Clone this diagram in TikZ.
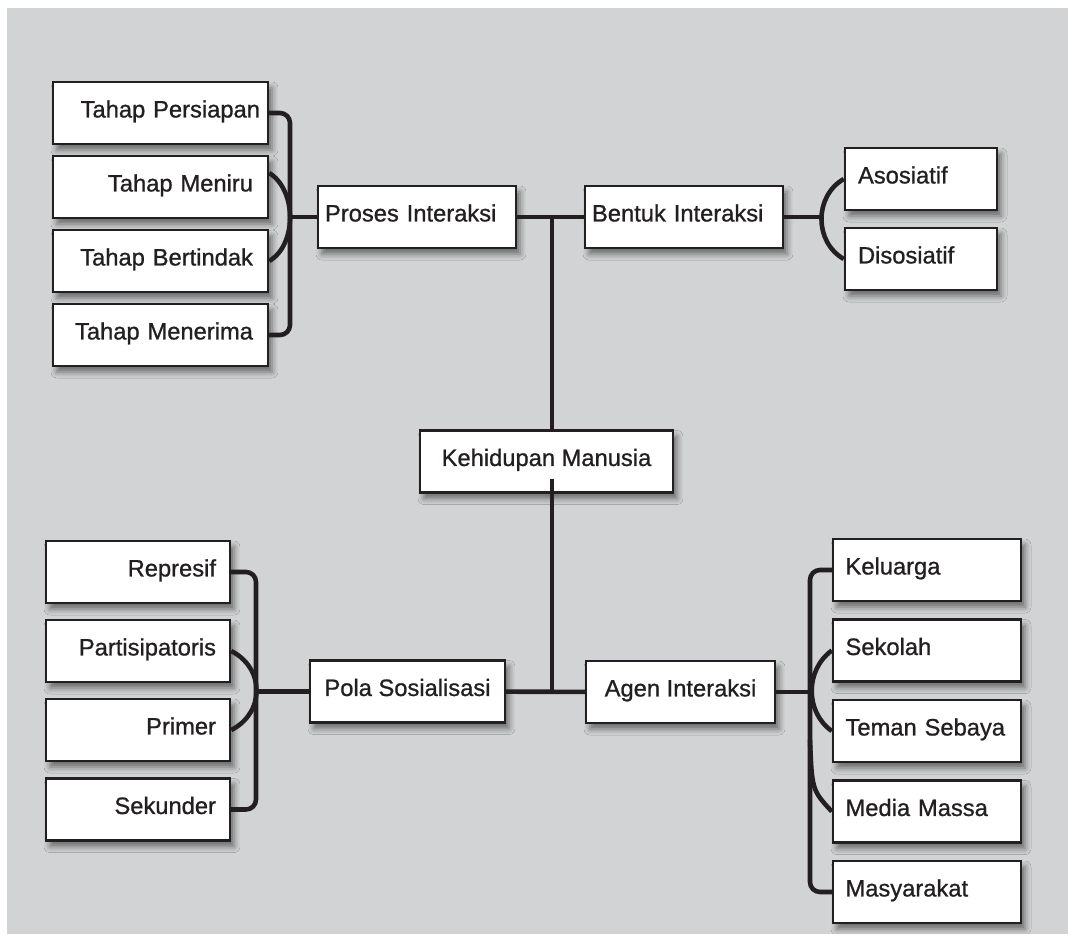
\documentclass[tikz,border=0pt]{standalone}
\usepackage{fontspec}
\setmainfont{Liberation Sans}[BoldFont=Liberation Sans, BoldFeatures={FakeBold=0.9}]
\usepackage{tikz}
\usetikzlibrary{calc,shadows.blur}
\definecolor{latar}{HTML}{D1D3D4}
\definecolor{hitam}{HTML}{231F20}

\begin{document}
\begin{tikzpicture}[x=0.02cm,y=-0.02cm,
    kotak/.style={draw=hitam, line width=1.4pt, fill=white, minimum height=1.24cm,
      text height=9.7pt, text depth=4.6pt, text=hitam,
      font=\fontsize{13.5pt}{16pt}\selectfont\bfseries,
      blur shadow={shadow xshift=0.08cm, shadow yshift=-0.12cm,
        shadow blur radius=0.12cm, shadow opacity=50}},
    tahap/.style={kotak, inner xsep=0.3cm, text width=3.7cm, align=right},
    pola/.style={kotak, inner xsep=0.28cm, text width=3.12cm, align=right},
    agen/.style={kotak, inner xsep=0.25cm, text width=3.26cm, align=left},
    jenis/.style={kotak, inner xsep=0.26cm, text width=2.52cm, align=left},
    induk/.style={kotak, inner xsep=0.14cm, text width=3.68cm, align=left},
    pusat/.style={kotak, minimum width=#1},
    garis/.style={draw=hitam, line width=2.6pt}]

    % Latar abu-abu
    \useasboundingbox (0,0) rectangle (1068,934);
    \fill[latar] (7,8) rectangle (1068,934);

    % Titik-titik sambungan
    \coordinate (kurung1) at (290,217);
    \coordinate (kurung2) at (822,217);
    \coordinate (kurung3) at (256,691.5);
    \coordinate (kurung4) at (810,692);
    \coordinate (cabang) at (810,740);
    \coordinate (atas) at (552,217);
    \coordinate (bawah) at (552,692);

    % Proses interaksi
    \node[tahap, inner xsep=0.16cm, text width=3.98cm] (persiapan) at (160.5,113) {Tahap Persiapan};
    \node[tahap] (meniru) at (160.5,187) {Tahap Meniru};
    \node[tahap] (bertindak) at (160.5,261) {Tahap Bertindak};
    \node[tahap] (menerima) at (160.5,335) {Tahap Menerima};
    \node[induk] (proses) at (417,217) {Proses Interaksi};

    % Bentuk interaksi
    \node[induk] (bentuk) at (684,217) {Bentuk Interaksi};
    \node[jenis] (asosiatif) at (921,179) {Asosiatif};
    \node[jenis] (disosiatif) at (921,259) {Disosiatif};

    \node[pusat=5.06cm] (kehidupan) at (546.5,461.5) {Kehidupan Manusia};

    % Pola sosialisasi
    \node[pola] (represif) at (138,572) {Represif};
    \node[pola] (partisipatoris) at (138,651) {Partisipatoris};
    \node[pola] (primer) at (138,730) {Primer};
    \node[pola] (sekunder) at (138,809.5) {Sekunder};
    \node[pusat=3.9cm] (sosialisasi) at (407.5,691.5) {Pola Sosialisasi};

    % Agen interaksi
    \node[pusat=3.78cm] (agen) at (680.5,692) {Agen Interaksi};
    \node[agen] (keluarga) at (927,570) {Keluarga};
    \node[agen] (sekolah) at (927,650.5) {Sekolah};
    \node[agen] (teman) at (927,731) {Teman Sebaya};
    \node[agen] (media) at (927,811.5) {Media Massa};
    \node[agen] (masyarakat) at (927,892) {Masyarakat};

    % Batang tengah
    \draw[garis] (proses) -- (bentuk);
    \draw[garis] (atas) -- (atas |- kehidupan.north);
    \draw[garis] ([yshift=0.3cm]kehidupan.south -| atas) -- (bawah);
    \draw[garis] (sosialisasi) -- (agen);

    % Kurung kiri atas
    \draw[garis, rounded corners=0.2cm] (persiapan.east) -| (kurung1) |- (menerima.east);
    \draw[garis] ([yshift=0.28cm]meniru.east) .. controls (297,190) and (297,245) .. (bertindak.east);
    \draw[garis] (kurung1) -- (proses.west);

    % Kurung kanan atas
    \draw[garis] (bentuk.east) -- (kurung2);
    \draw[garis] (asosiatif.west) .. controls (814,196) and (814,242) .. (disosiatif.west);

    % Kurung kiri bawah
    \draw[garis, rounded corners=0.2cm] (represif.east) -| (kurung3) |- (sekunder.east);
    \draw[garis] (partisipatoris.east) .. controls (265,668) and (265,713) .. (primer.east);
    \draw[garis] (kurung3) -- (sosialisasi.west);

    % Kurung kanan bawah
    \draw[garis, rounded corners=0.2cm] (keluarga.west) -| (kurung4) |- (masyarakat.west);
    \draw[garis] (sekolah.west) .. controls (805,670) and (805,712) .. (teman.west);
    \draw[garis] (cabang) .. controls (812,790) .. (media.west);
    \draw[garis] (agen.east) -- (kurung4);
\end{tikzpicture}
\end{document}
